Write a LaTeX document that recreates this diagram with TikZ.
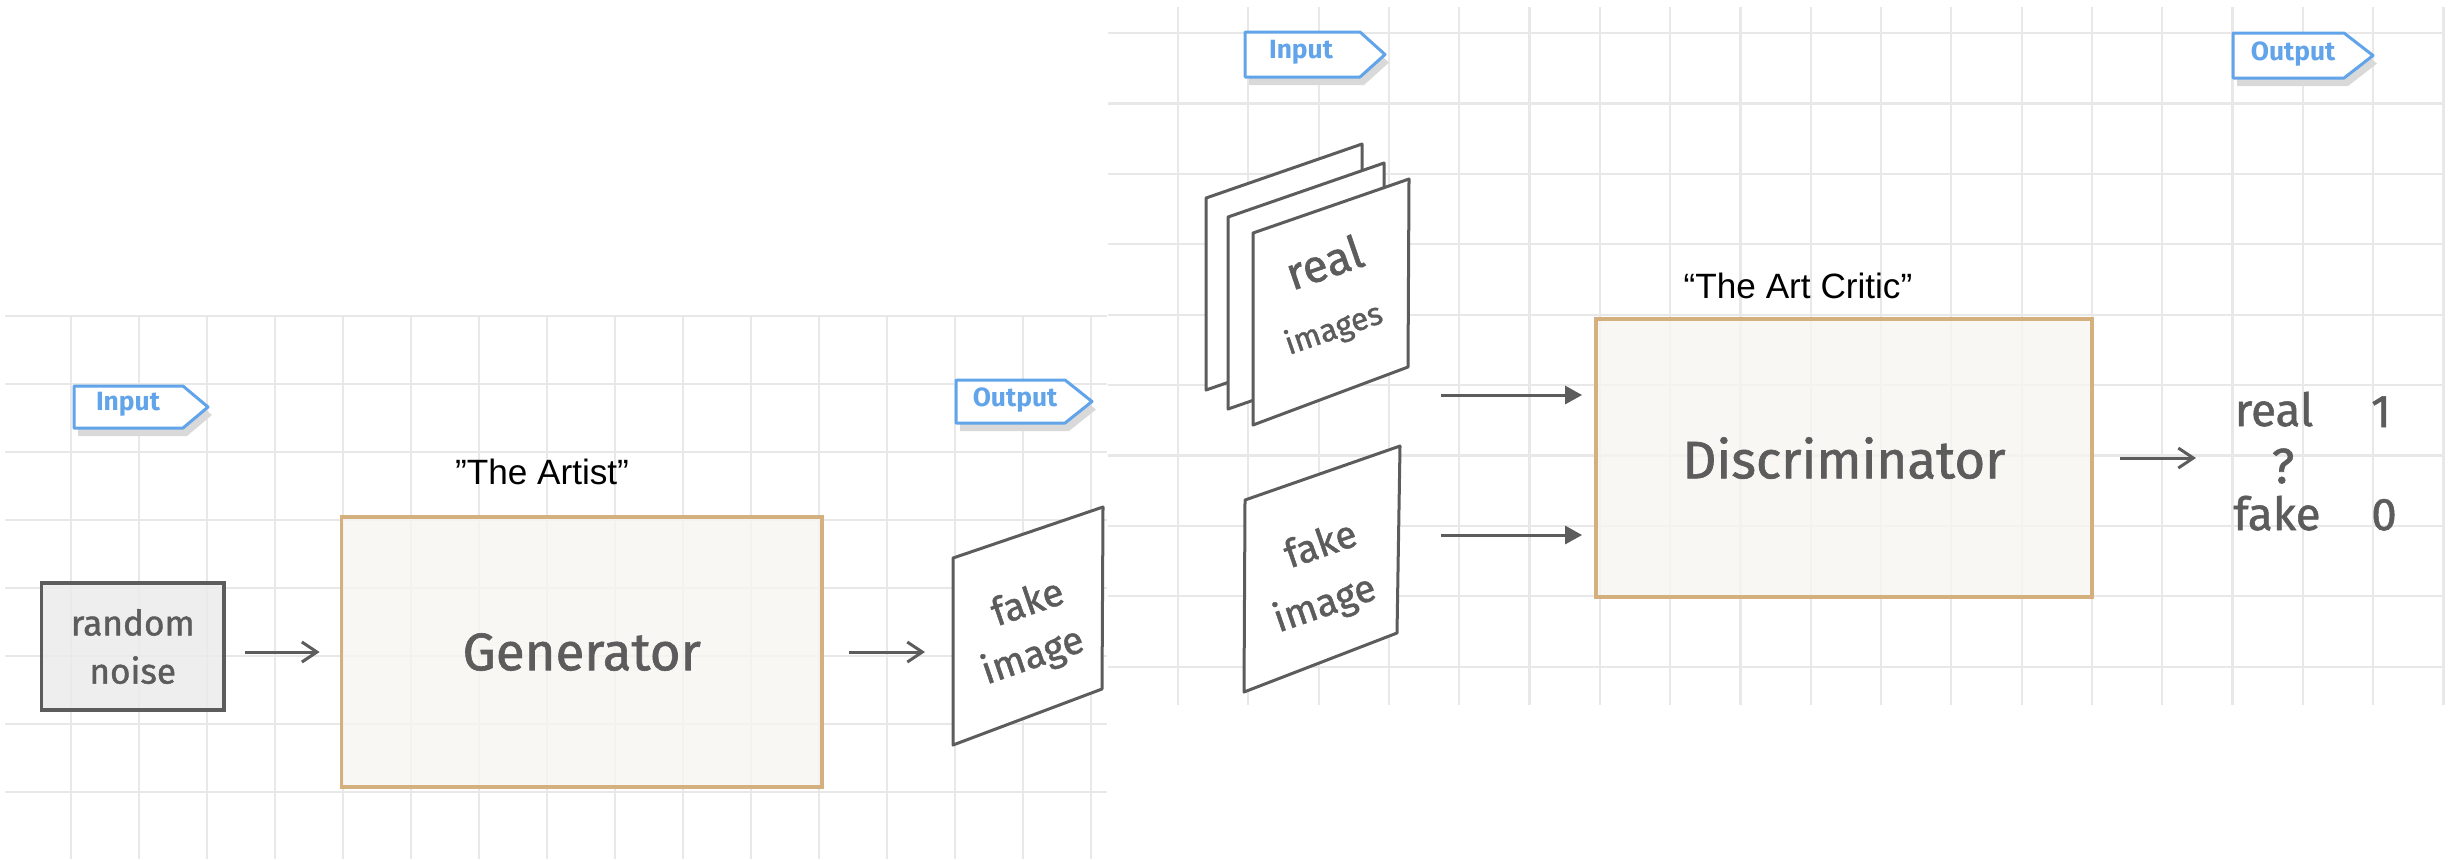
\documentclass[tikz,border=0pt]{standalone}
\usepackage{fontspec}
\setmainfont{Liberation Sans}
\newfontfamily\handfont[FakeBold=1.2]{Fira Sans}
\newfontfamily\tagfont{Fira Sans}
\usetikzlibrary{arrows.meta}

\definecolor{gridgray}{HTML}{E8E8E8}
\definecolor{ink}{HTML}{5C5C5C}
\definecolor{boxedge}{HTML}{D4B07E}
\definecolor{boxfill}{HTML}{F8F5F0}
\definecolor{tagblue}{HTML}{62A4EA}
\definecolor{noisegray}{HTML}{EBEBEB}
\definecolor{tagshadow}{HTML}{D9D9D9}

\tikzset{
  gridline/.style={draw=gridgray, line width=0.022cm},
  blockbox/.style={draw=boxedge, line width=0.035cm, fill=boxfill, fill opacity=0.8,
    text opacity=1, inner sep=0pt, text=ink, font=\handfont\fontsize{15}{18}\selectfont},
  noisebox/.style={draw=ink, line width=0.035cm, fill=noisegray, fill opacity=0.85,
    text opacity=1, inner sep=0pt, text=ink, align=center,
    font=\handfont\fontsize{10}{13.7}\selectfont},
  sheet/.style={draw=ink, line width=0.03cm, fill=white, line join=round},
  hand/.style={text=ink, inner sep=0pt, font=\handfont\fontsize{#1}{#1}\selectfont},
  tagedge/.style={draw=tagblue, line width=0.03cm, fill=white, line join=round},
  tagtext/.style={text=tagblue, inner sep=0pt, font=\tagfont\bfseries\fontsize{7.5}{8}\selectfont},
  caption/.style={text=black, inner sep=0pt, anchor=base, font=\fontsize{10}{12}\selectfont},
  linearrow/.style={draw=ink, line width=0.03cm, -{Straight Barb[length=0.15cm, width=0.2cm]}},
  solidarrow/.style={draw=ink, line width=0.03cm, -{Triangle[length=0.17cm, width=0.18cm]}}
}

\begin{document}
\begin{tikzpicture}[x=0.01cm, y=-0.01cm]
\useasboundingbox (0,0) rectangle (2455,859);

% squared paper, generator sheet
\foreach \i in {0,...,15} \draw[gridline] ({71+68*\i},316) -- ({71+68*\i},859);
\foreach \j in {0,...,7} \draw[gridline] (5,{316+68*\j}) -- (1107,{316+68*\j});
% squared paper, discriminator sheet
\foreach \i in {0,...,18} \draw[gridline] ({1178+70.3*\i},7) -- ({1178+70.3*\i},705);
\foreach \j in {0,...,9} \draw[gridline] (1108,{33+70.4*\j}) -- (2443,{33+70.4*\j});

% Input / Output flags
\foreach \xa/\xb/\xt/\ya/\yb in {74/183/208/386/428, 956/1065/1092/380/423,
                                 1245/1360/1385/32/77, 2233/2344/2373/33/78}{
  \fill[tagshadow, shift={(4,8)}] (\xa,\ya) -- (\xb,\ya) -- (\xt,{(\ya+\yb)/2})
      -- (\xb,\yb) -- (\xa,\yb) -- cycle;
  \draw[tagedge] (\xa,\ya) -- (\xb,\ya) -- (\xt,{(\ya+\yb)/2})
      -- (\xb,\yb) -- (\xa,\yb) -- cycle;
}
\node[tagtext] (inA)  at (128,404)  {Input};
\node[tagtext] (outA) at (1015,400) {Output};
\node[tagtext] (inB)  at (1301,52)  {Input};
\node[tagtext] (outB) at (2293,54)  {Output};

% ---- generator ----
\node[noisebox, minimum width=1.825cm, minimum height=1.27cm] (noise) at (132.75,646.5) {random\\noise};
\node[blockbox, minimum width=4.805cm, minimum height=2.70cm] (gen) at (581.75,652) {Generator};
\node[caption] (artist) at (542,484) {”The Artist”};

\draw[sheet] (953,558) -- (1103,507) -- (1102,689) -- (953,745) -- cycle;
\node[hand=11, rotate=19] (fakeA1) at (1027,601) {fake};
\node[hand=11, rotate=19] (fakeA2) at (1033,657) {image};
\coordinate (fakeAin) at (953,652);

\draw[linearrow, shorten <=0.19cm, shorten >=0.20cm] (noise.east |- gen.west) -- (gen.west);
\draw[linearrow, shorten <=0.25cm, shorten >=0.28cm] (gen.east) -- (fakeAin);

% ---- discriminator ----
\draw[sheet] (1206,198) -- (1362,144) -- (1362,336) -- (1206,390) -- cycle;
\draw[sheet] (1228,217) -- (1384,163) -- (1384,355) -- (1228,409) -- cycle;
\draw[sheet] (1253,233) -- (1409,179) -- (1408,367) -- (1253,425) -- cycle;
\node[hand=13, rotate=19] (realB1) at (1324,262) {real};
\node[hand=9, rotate=19]  (realB2) at (1334,330) {images};

\draw[sheet] (1245,500) -- (1400,446) -- (1397,633) -- (1244,692) -- cycle;
\node[hand=11, rotate=19] (fakeB1) at (1320,543) {fake};
\node[hand=11, rotate=19] (fakeB2) at (1325,605) {image};

\node[blockbox, minimum width=4.96cm, minimum height=2.78cm] (disc) at (1844,458) {Discriminator};
\node[caption] (critic) at (1798,298) {“The Art Critic”};

\coordinate (realBout) at (1441,395);
\coordinate (fakeBout) at (1441,535);
\draw[solidarrow, shorten >=0.12cm] (realBout) -- (realBout -| disc.west);
\draw[solidarrow, shorten >=0.12cm] (fakeBout) -- (fakeBout -| disc.west);

\coordinate (verdictin) at (2196,458);
\draw[linearrow, shorten <=0.26cm] (disc.east) -- (verdictin);

\node[hand=13, anchor=base] (vreal) at (2274,426) {real};
\node[hand=13, anchor=base] (vone)  at (2381,427) {1};
\node[hand=14, anchor=base] (vq)    at (2283,483) {?};
\node[hand=13, anchor=base] (vfake) at (2277,530) {fake};
\node[hand=13, anchor=base] (vzero) at (2384,530) {0};
\end{tikzpicture}
\end{document}
